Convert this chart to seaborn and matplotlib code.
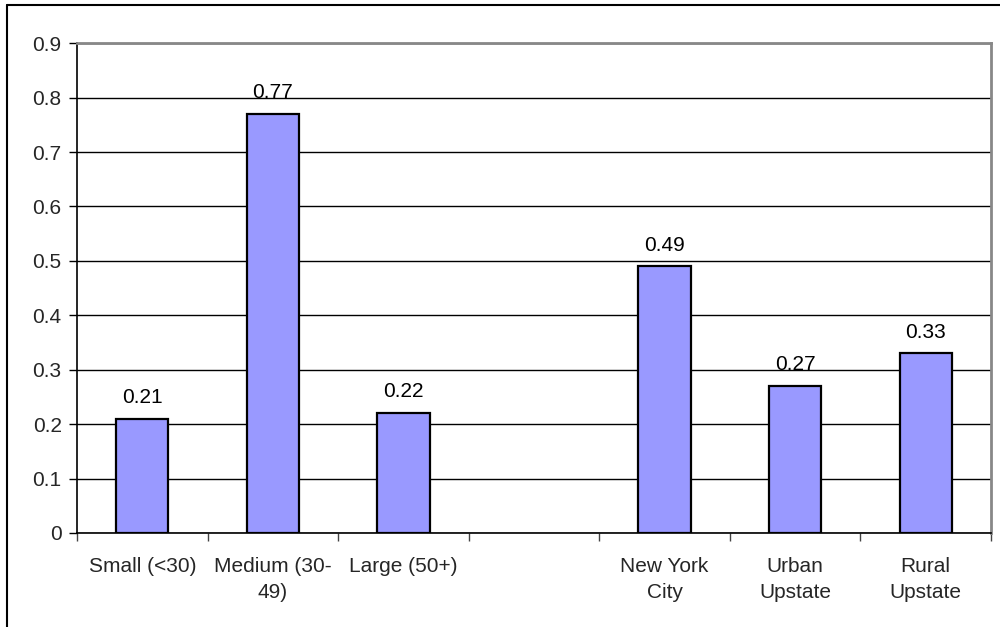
"""Bar chart recreation."""

import matplotlib.pyplot as plt
import numpy as np
import pandas as pd
import seaborn as sns
from matplotlib.lines import Line2D

categories = ["Small (<30)", "Medium (30-\n49)", "Large (50+)", " ",
              "New York\nCity", "Urban\nUpstate", "Rural\nUpstate"]
values = [0.21, 0.77, 0.22, np.nan, 0.49, 0.27, 0.33]
y_ticks = [0, 0.1, 0.2, 0.3, 0.4, 0.5, 0.6, 0.7, 0.8, 0.9]

df = pd.DataFrame({"category": categories, "value": values})

sns.set_theme(style="white")
plt.rcParams["font.family"] = ["Liberation Sans", "DejaVu Sans"]

fig = plt.figure(figsize=(10, 6.27), dpi=100)
ax = fig.add_axes([0.077, 0.150, 0.914, 0.781])

sns.barplot(data=df, x="category", y="value", order=categories,
            color="#9999FF", saturation=1, width=0.4,
            edgecolor="black", linewidth=1.6, ax=ax, zorder=3)

# value labels
for i, v in enumerate(values):
    if not np.isnan(v):
        ax.annotate(f"{v:.2f}", (i, v), xytext=(0, 8.5), textcoords="offset points",
                    ha="center", va="bottom", fontsize=15, color="black")

ax.set_ylim(0, 0.9)
ax.set_xlim(-0.5, len(categories) - 0.5)
ax.set_yticks(y_ticks)
ax.set_yticklabels(["0" if t == 0 else f"{t:.1f}" for t in y_ticks], fontsize=15)
ax.yaxis.grid(True, color="black", linewidth=1)
ax.set_axisbelow(True)

ax.set_xticks(range(len(categories)))
ax.set_xticklabels(categories, fontsize=15, linespacing=1.5)
ax.set_xticks(np.arange(-0.5, len(categories), 1), minor=True)
ax.tick_params(axis="x", which="major", length=0, pad=17)
ax.tick_params(axis="x", which="minor", length=6, width=1, color="#444444",
               direction="out", bottom=True)
ax.tick_params(axis="y", length=6, width=1, color="black", direction="out",
               left=True, pad=5)
ax.set_xlabel("")
ax.set_ylabel("")

for side in ["top", "right"]:
    ax.spines[side].set_color("#888888")
    ax.spines[side].set_linewidth(2)
for side in ["left", "bottom"]:
    ax.spines[side].set_color("black")
    ax.spines[side].set_linewidth(1.2)

# outer chart border (top and left edges visible)
fig.add_artist(Line2D([0.007, 1], [1 - 5 / 627, 1 - 5 / 627], color="black", linewidth=1.5))
fig.add_artist(Line2D([0.007, 0.007], [0, 1 - 5 / 627], color="black", linewidth=1.5))

fig.savefig("out.png", dpi=100)
plt.close(fig)
